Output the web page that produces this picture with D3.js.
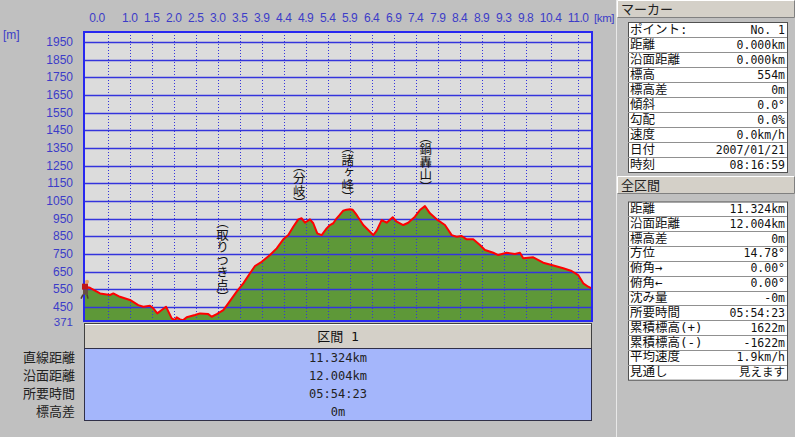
<!DOCTYPE html>
<html><head><meta charset="utf-8">
<script src="https://cdn.jsdelivr.net/npm/d3@7"></script>
<style>
body{margin:0;background:#c0c0c0;overflow:hidden}
svg{display:block}
</style>
</head><body>
<svg id="c" width="795" height="437"></svg>
<script>
// ---------- data ----------
const distKm = [0.000,0.022,0.134,0.357,0.580,0.653,0.802,1.025,1.210,1.322,1.471,1.545,1.634,1.732,1.828,1.901,1.955,2.028,2.066,2.140,2.213,2.289,2.474,2.585,2.770,2.846,2.958,3.105,3.216,3.403,3.551,3.700,3.811,3.961,4.146,4.295,4.442,4.554,4.665,4.776,4.852,4.926,5.037,5.111,5.200,5.298,5.409,5.483,5.557,5.632,5.700,5.779,5.850,5.929,5.990,6.078,6.225,6.375,6.448,6.524,6.635,6.747,6.881,6.970,7.117,7.228,7.378,7.489,7.600,7.712,7.861,8.046,8.196,8.307,8.418,8.530,8.677,8.826,8.938,9.123,9.234,9.421,9.606,9.718,9.791,10.014,10.237,10.424,10.683,10.870,11.017,11.129,11.240,11.324];
const elevM  = [554,565,559,527,518,527,508,490,461,452,457,443,414,433,452,414,386,376,392,380,376,392,405,414,410,395,410,433,471,537,584,641,682,706,744,782,833,857,904,946,952,927,946,924,867,857,895,914,924,952,971,995,1001,1003,1000,971,914,876,857,882,942,927,958,933,914,927,961,999,1021,980,946,914,857,848,852,833,833,801,773,757,744,757,750,757,726,731,701,688,669,654,631,584,565,554];
const totalKm = 11.324;
const elevMin = 371, elevMax = 2006;
const xTickKm = [0.528,1.019,1.509,1.999,2.490,2.980,3.470,3.961,4.451,4.941,5.432,5.922,6.412,6.903,7.393,7.884,8.374,8.864,9.355,9.845,10.402,11.017];
const xTickLabels = ["","1.0","1.5","2.0","2.5","3.0","3.5","3.9","4.4","4.9","5.4","5.9","6.4","6.9","7.4","7.9","8.4","8.9","9.3","9.8","10.4","11.0"];
const yTicks = [450,550,650,750,850,950,1050,1150,1250,1350,1450,1550,1650,1750,1850,1950];
const placeNames = ["（取りつき点）","（分岐）","（諸ヶ峰）","（鍋轟山）"];
const placeKm = [3.09,4.80,5.88,7.62];
const placeTopElev = [965,1282,1389,1446];
const markerLabels = ["ポイント:","距離","沿面距離","標高","標高差","傾斜","勾配","速度","日付","時刻"];
const markerValues = ["No. 1","0.000km","0.000km","554m","0m","0.0°","0.0%","0.0km/h","2007/01/21","08:16:59"];
const totalLabels = ["距離","沿面距離","標高差","方位","俯角→","俯角←","沈み量","所要時間","累積標高(+)","累積標高(-)","平均速度","見通し"];
const totalValues = ["11.324km","12.004km","0m","14.78°","0.00°","0.00°","-0m","05:54:23","1622m","-1622m","1.9km/h","見えます"];
const sectionLabels = ["直線距離","沿面距離","所要時間","標高差"];
const sectionValues = ["11.324km","12.004km","05:54:23","0m"];

// ---------- layout ----------
const svg = d3.select("#c");
const L = 84, R = 592, T = 32, B = 321;
const blue = "#3434dc", labBlue = "#3c3cc8";
const numFont = "'Liberation Sans', sans-serif";
const monoFont = "'DejaVu Sans Mono','Noto Sans CJK JP', monospace";
const cjkFont = "'DejaVu Sans Mono','Noto Sans CJK JP', sans-serif";
const vFont = "'Noto Sans CJK JP', sans-serif";
const x = d3.scaleLinear().domain([0, totalKm]).range([L, R]);
const y = d3.scaleLinear().domain([elevMin, elevMax]).range([B, T]);

svg.append("rect").attr("x",0).attr("y",0).attr("width",795).attr("height",437).attr("fill","#c0c0c0");
svg.append("rect").attr("x",L).attr("y",T).attr("width",R-L).attr("height",B-T).attr("fill","#dcdcdc");

const pts = distKm.map((d,i)=>({d, e: elevM[i]}));
svg.append("defs").append("clipPath").attr("id","clip").append("rect").attr("x",L).attr("y",T).attr("width",R-L).attr("height",B-T);
const g = svg.append("g").attr("clip-path","url(#clip)");
g.append("path").datum(pts)
  .attr("d", d3.area().x(p=>x(p.d)).y0(y(elevMin)).y1(p=>y(p.e)))
  .attr("fill","#5e9838");

// grid
g.selectAll(".hg").data(yTicks).join("line")
  .attr("x1",L).attr("x2",R).attr("y1",v=>Math.round(y(v))+0.5).attr("y2",v=>Math.round(y(v))+0.5)
  .attr("stroke",blue).attr("stroke-width",1.3);
g.selectAll(".vg").data(xTickKm).join("line")
  .attr("x1",v=>Math.round(x(v))+0.5).attr("x2",v=>Math.round(x(v))+0.5).attr("y1",T).attr("y2",B)
  .attr("stroke",blue).attr("stroke-width",1).attr("stroke-dasharray","1,2");

g.append("path").datum(pts)
  .attr("d", d3.line().x(p=>x(p.d)).y(p=>y(p.e)))
  .attr("fill","none").attr("stroke","#ff0000").attr("stroke-width",2).attr("stroke-linejoin","round");

svg.append("rect").attr("x",L).attr("y",T).attr("width",R-L).attr("height",B-T)
  .attr("fill","none").attr("stroke","#2828f0").attr("stroke-width",2);

// axis labels
svg.selectAll(".xl").data(xTickKm).join("text")
  .attr("x",v=>x(v)).attr("y",22).attr("text-anchor","middle")
  .style("font-family",numFont).style("font-size","12px").attr("fill",labBlue).attr("letter-spacing",-0.4)
  .text((v,i)=>xTickLabels[i]);
svg.append("text").attr("x",x(0)+13).attr("y",22).attr("text-anchor","middle")
  .style("font-family",numFont).style("font-size","12px").attr("fill",labBlue).attr("letter-spacing",-0.4).text("0.0");
svg.append("text").attr("x",594).attr("y",22)
  .style("font-family",numFont).style("font-size","11.5px").attr("fill",labBlue).attr("letter-spacing",-0.4).text("[km]");
svg.selectAll(".yl").data(yTicks).join("text")
  .attr("x",73).attr("y",v=>y(v)+4).attr("text-anchor","end")
  .style("font-family",numFont).style("font-size","12px").attr("fill",labBlue).text(v=>v);
svg.append("text").attr("x",73).attr("y",y(elevMin)+4.5).attr("text-anchor","end")
  .style("font-family",numFont).style("font-size","11.5px").attr("fill",labBlue).text(elevMin);
svg.append("text").attr("x",3).attr("y",39)
  .style("font-family",numFont).style("font-size","12px").attr("fill",labBlue).text("[m]");

// vertical place names
placeNames.forEach((name,i)=>{
  svg.append("text")
    .attr("x", x(placeKm[i])).attr("y", y(placeTopElev[i]))
    .style("writing-mode","vertical-rl")
    .style("font-family",vFont).style("font-size","12.5px").attr("fill","#111")
    .text(name);
});

// hiker icon at start
const hx = x(0), hy = y(elevM[0]);
svg.append("circle").attr("cx",hx+3).attr("cy",hy-7).attr("r",2).attr("fill","#e8a060");
svg.append("rect").attr("x",hx-2).attr("y",hy-5).attr("width",6).attr("height",6).attr("fill","#c01818");
svg.append("rect").attr("x",hx-1).attr("y",hy+1).attr("width",5).attr("height",5).attr("fill","#6a5040");
svg.append("line").attr("x1",hx-1).attr("y1",hy+6).attr("x2",hx-3).attr("y2",hy+10).attr("stroke","#504030").attr("stroke-width",1.5);
svg.append("line").attr("x1",hx+3).attr("y1",hy+6).attr("x2",hx+4).attr("y2",hy+10).attr("stroke","#504030").attr("stroke-width",1.5);

// bottom section table
const tb = svg.append("g");
tb.append("rect").attr("x",L+0.5).attr("y",323.5).attr("width",R-L-1).attr("height",25).attr("fill","#d4d0c8").attr("stroke","#404040");
tb.append("line").attr("x1",L+1).attr("x2",R-1).attr("y1",324.5).attr("y2",324.5).attr("stroke","#fff");
tb.append("text").attr("x",(L+R)/2).attr("y",340.5).attr("text-anchor","middle")
  .style("font-family",cjkFont).style("font-size","13px").attr("fill","#111").text("区間 1");
tb.append("rect").attr("x",L+0.5).attr("y",348.5).attr("width",R-L-1).attr("height",72).attr("fill","#a4b6fb").attr("stroke","#303048");
sectionLabels.forEach((s,i)=>{
  const by = 362 + i*18;
  tb.append("text").attr("x",75).attr("y",by).attr("text-anchor","end")
    .style("font-family",cjkFont).style("font-size","13px").attr("fill","#222").text(s);
  tb.append("text").attr("x",(L+R)/2).attr("y",by).attr("text-anchor","middle")
    .style("font-family",monoFont).style("font-size","12px").attr("fill","#222").text(sectionValues[i]);
});

// right panel
const rp = svg.append("g");
rp.append("line").attr("x1",616.5).attr("x2",616.5).attr("y1",0).attr("y2",437).attr("stroke","#e8e8e8");
function titleBar(y0, h, label){
  rp.append("rect").attr("x",617).attr("y",y0).attr("width",178).attr("height",h).attr("fill","#d4d0c8");
  rp.append("path").attr("d",`M617.5,${y0+h-0.5}V${y0+0.5}H794.5`).attr("fill","none").attr("stroke","#ffffff");
  rp.append("path").attr("d",`M617.5,${y0+h-0.5}H794.5V${y0+0.5}`).attr("fill","none").attr("stroke","#808080");
  rp.append("text").attr("x",621).attr("y",y0+h-4.5)
    .style("font-family",cjkFont).style("font-size","13px").attr("fill","#222").text(label);
}
function table(y0, rowH, labels, values){
  const x0 = 628, x1 = 787;
  rp.append("rect").attr("x",x0+0.5).attr("y",y0+0.5).attr("width",x1-x0).attr("height",rowH*labels.length).attr("fill","#fff").attr("stroke","#505050");
  labels.forEach((s,i)=>{
    const ry = y0 + i*rowH;
    if (i>0) rp.append("line").attr("x1",x0).attr("x2",x1).attr("y1",Math.round(ry)+0.5).attr("y2",Math.round(ry)+0.5).attr("stroke","#909090");
    rp.append("text").attr("x",x0+2).attr("y",ry+rowH-3.5)
      .style("font-family",cjkFont).style("font-size","12.5px").attr("fill","#111").text(s);
    rp.append("text").attr("x",x1-2).attr("y",ry+rowH-3.5).attr("text-anchor","end")
      .style("font-family",monoFont).style("font-size","11.5px").attr("fill","#111").text(values[i]);
  });
}
titleBar(0, 18, "マーカー");
table(22, 15, markerLabels, markerValues);
titleBar(176, 18, "全区間");
table(201.5, 14.85, totalLabels, totalValues);
</script>
</body></html>
